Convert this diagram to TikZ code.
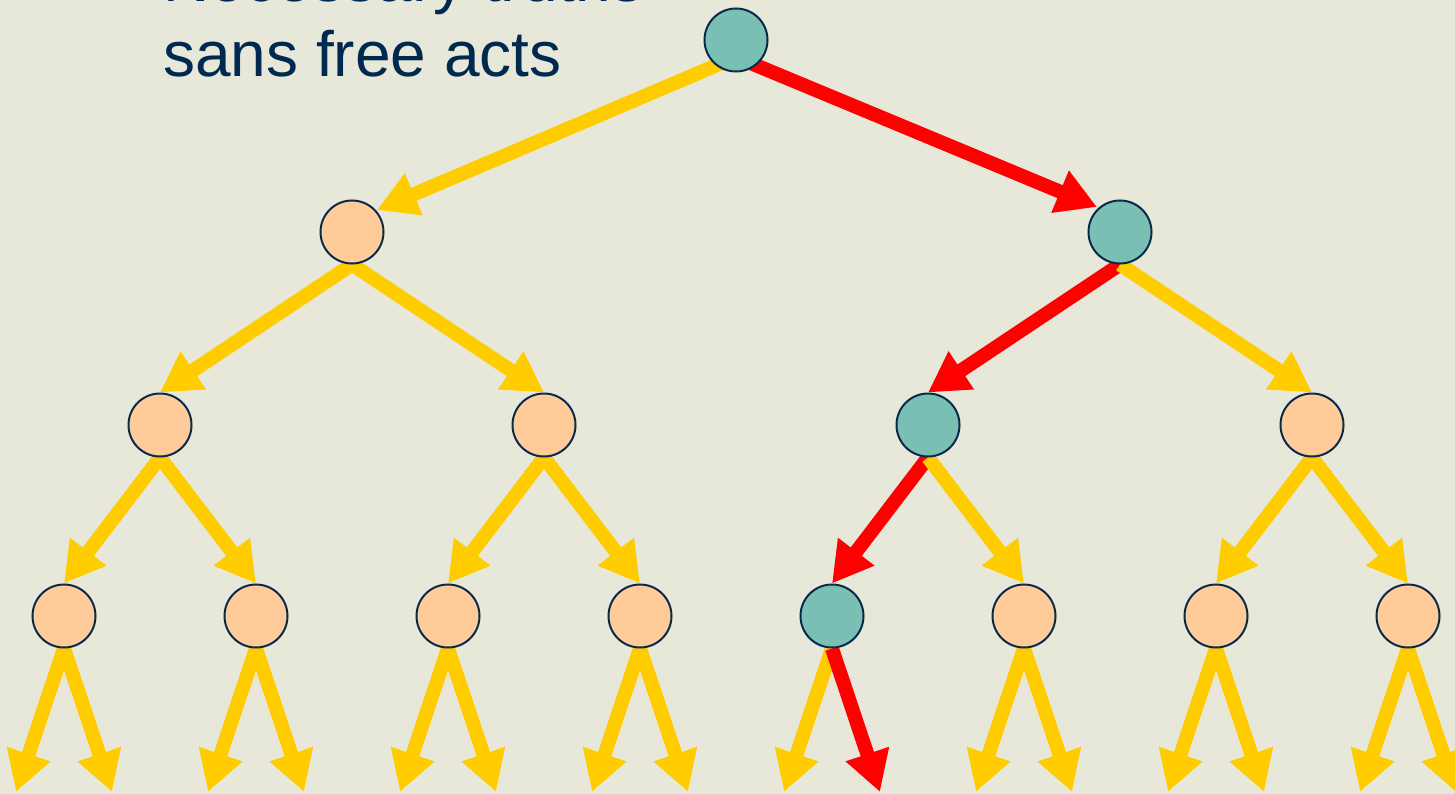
\documentclass[tikz,border=0pt]{standalone}
\usepackage{fontspec}
\setmainfont{Liberation Sans}
\usetikzlibrary{arrows.meta,calc}
\definecolor{bgc}{HTML}{E7E8DA}
\definecolor{tealc}{HTML}{7ABFB3}
\definecolor{peachc}{HTML}{FFCC99}
\definecolor{edgec}{HTML}{0A2A4C}
\definecolor{arrowyellow}{HTML}{FFCC00}
\definecolor{arrowred}{HTML}{FF0000}
\definecolor{textc}{HTML}{00294F}
\pgfdeclarelayer{bglayer}
\pgfdeclarelayer{arrowlayer}
\pgfsetlayers{bglayer,arrowlayer,main}
\tikzset{
  treenode/.style={circle, draw=edgec, line width=2pt, minimum size=63pt, inner sep=0pt},
  chosen/.style={treenode, fill=tealc},
  other/.style={treenode, fill=peachc},
  yarr/.style={draw=arrowyellow, line width=14pt, -{Triangle[length=40pt,width=43pt]}},
  rarr/.style={draw=arrowred, line width=14pt, -{Triangle[length=40pt,width=43pt]}},
  titletext/.style={text=textc, font=\fontsize{64}{75}\selectfont, inner sep=0pt, anchor=base west}
}
\begin{document}
\begin{tikzpicture}[x=1pt,y=-1pt]
\begin{pgfonlayer}{bglayer}
\fill[bgc] (0,0) rectangle (1455,794);
\end{pgfonlayer}
\clip (0,0) rectangle (1455,794);
\useasboundingbox (0,0) rectangle (1455,794);

\node[titletext] (t1) at (163,2) {Necessary truths};
\node[titletext] (t2) at (163,77) {sans free acts};

\node[chosen] (n0) at (736,40) {};
\node[other]  (n1a) at (352,232) {};
\node[chosen] (n1b) at (1120,232) {};
\node[other]  (n2a) at (160,425) {};
\node[other]  (n2b) at (544,425) {};
\node[chosen] (n2c) at (928,425) {};
\node[other]  (n2d) at (1312,425) {};
\node[other]  (n3a) at (64,616) {};
\node[other]  (n3b) at (256,616) {};
\node[other]  (n3c) at (448,616) {};
\node[other]  (n3d) at (640,616) {};
\node[chosen] (n3e) at (832,616) {};
\node[other]  (n3f) at (1024,616) {};
\node[other]  (n3g) at (1216,616) {};
\node[other]  (n3h) at (1408,616) {};

\foreach \n in {a,b,c,d,e,f,g,h}{
  \coordinate (l\n L) at ($(n3\n.center)+(-48,176)$);
  \coordinate (l\n R) at ($(n3\n.center)+(48,176)$);
}

\begin{pgfonlayer}{arrowlayer}
\draw[yarr] ($(n0.center)+(0,17)$) -- ($(n1a.center)+(25,-22)$);
\draw[rarr] ($(n0.center)+(0,17)$) -- ($(n1b.center)+(-23,-25)$);
\draw[yarr] (n1a.south) -- (n2a.north);
\draw[yarr] (n1a.south) -- (n2b.north);
\draw[rarr] (n1b.south) -- (n2c.north);
\draw[yarr] (n1b.south) -- (n2d.north);
\draw[yarr] (n2a.south) -- (n3a.north);
\draw[yarr] (n2a.south) -- (n3b.north);
\draw[yarr] (n2b.south) -- (n3c.north);
\draw[yarr] (n2b.south) -- (n3d.north);
\draw[rarr] (n2c.south) -- (n3e.north);
\draw[yarr] (n2c.south) -- (n3f.north);
\draw[yarr] (n2d.south) -- (n3g.north);
\draw[yarr] (n2d.south) -- (n3h.north);
\foreach \n in {a,b,c,d,f,g,h}{
  \draw[yarr] (n3\n.south) -- (l\n L);
  \draw[yarr] (n3\n.south) -- (l\n R);
}
\draw[yarr] (n3e.south) -- (leL);
\draw[rarr] (n3e.south) -- (leR);
\end{pgfonlayer}
\end{tikzpicture}
\end{document}
